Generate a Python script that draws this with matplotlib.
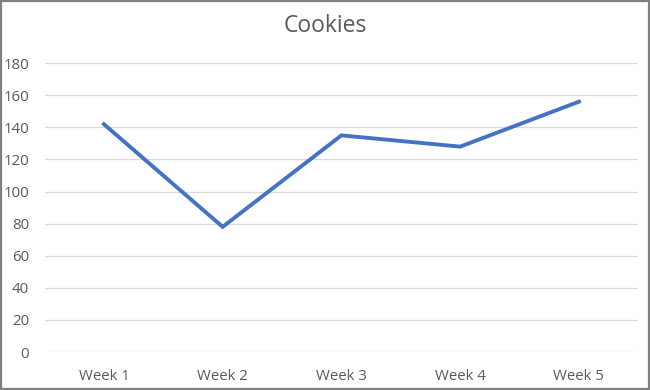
import matplotlib
matplotlib.use("Agg")
import matplotlib.pyplot as plt
from matplotlib.patches import Rectangle

weeks = ["Week 1", "Week 2", "Week 3", "Week 4", "Week 5"]
cookies = [142, 78, 135, 128, 156]
yticks = [0, 20, 40, 60, 80, 100, 120, 140, 160, 180]

plt.rcParams['font.family'] = ['Open Sans', 'DejaVu Sans']
txt = '#595959'

fig = plt.figure(figsize=(6.5, 3.9), dpi=100)
ax = fig.add_axes([0.0685, 0.0974, 0.9135, 0.7406])

x = range(len(weeks))
ax.plot(x, cookies, color='#4472C4', linewidth=2.8, solid_joinstyle='miter')

ax.set_xlim(-0.5, len(weeks) - 0.5)
ax.set_ylim(0, 180)
ax.set_yticks(yticks)
ax.set_xticks(list(x))
ax.set_xticklabels(weeks)
ax.grid(axis='y', color='#D9D9D9', linewidth=0.9)
ax.set_axisbelow(True)
for s in ax.spines.values():
    s.set_visible(False)
ax.tick_params(length=0, colors=txt, labelsize=10.8)
ax.tick_params(axis='x', pad=12)
ax.tick_params(axis='y', pad=11)

fig.text(0.5, 0.933, "Cookies", ha='center', va='center', fontsize=16.5, color=txt)

fig.patches.append(Rectangle((0.002, 0.003), 0.996, 0.994, transform=fig.transFigure,
                             fill=False, edgecolor='#7F7F7F', linewidth=1.6))

fig.savefig("out.png", dpi=100)
